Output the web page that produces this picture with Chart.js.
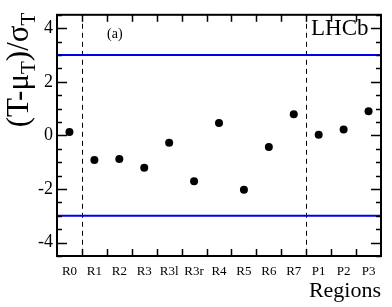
<!DOCTYPE html>
<html>
<head>
<meta charset="utf-8">
<script src="https://cdn.jsdelivr.net/npm/chart.js@4/dist/chart.umd.min.js"></script>
<style>
html,body{margin:0;padding:0;background:#fff;}
#c{display:block;}
</style>
</head>
<body>
<canvas id="c" width="392" height="307"></canvas>
<script>
const categories = ["R0","R1","R2","R3","R3l","R3r","R4","R5","R6","R7","P1","P2","P3"];
const pulls = [0.13,-0.92,-0.88,-1.21,-0.27,-1.71,0.46,-2.03,-0.43,0.79,0.02,0.22,0.90];
const yTickValues = [-4,-2,0,2,4];
const bandLimits = [3,-3];
const dividerAfter = ["R0","R7"];

const SERIF = '"Liberation Serif","DejaVu Serif",serif';

const decor = {
  id:'decor',
  beforeDatasetsDraw(chart){
    const {ctx, chartArea:a, scales:{x,y}} = chart;
    ctx.save();
    ctx.strokeStyle='#000'; ctx.lineWidth=1; ctx.setLineDash([5,4]);
    dividerAfter.forEach(c=>{
      const i = categories.indexOf(c);
      const px = Math.round((x.getPixelForValue(i)+x.getPixelForValue(i+1))/2)+0.5;
      ctx.beginPath(); ctx.moveTo(px,a.top); ctx.lineTo(px,a.bottom); ctx.stroke();
    });
    ctx.setLineDash([]);
    ctx.strokeStyle='#0000ee'; ctx.lineWidth=2;
    bandLimits.forEach(v=>{
      const py = y.getPixelForValue(v);
      ctx.beginPath(); ctx.moveTo(a.left,py); ctx.lineTo(a.right,py); ctx.stroke();
    });
    ctx.restore();
  },
  afterDraw(chart){
    const {ctx, chartArea:a, scales:{x,y}} = chart;
    ctx.save();
    ctx.strokeStyle='#000';
    ctx.lineWidth=1.5;
    for(let i=1;i<categories.length;i++){
      const px = Math.round((x.getPixelForValue(i-1)+x.getPixelForValue(i))/2)+0.5;
      ctx.beginPath(); ctx.moveTo(px,a.bottom); ctx.lineTo(px,a.bottom-7); ctx.stroke();
      ctx.beginPath(); ctx.moveTo(px,a.top); ctx.lineTo(px,a.top+7); ctx.stroke();
    }
    for(let k=-9;k<=9;k++){
      const v=k/2;
      const py = Math.round(y.getPixelForValue(v))+0.5;
      const len = (k%4===0)?10:5;
      ctx.beginPath(); ctx.moveTo(a.left,py); ctx.lineTo(a.left+len,py); ctx.stroke();
      ctx.beginPath(); ctx.moveTo(a.right,py); ctx.lineTo(a.right-len,py); ctx.stroke();
    }
    ctx.lineWidth=2;
    ctx.strokeRect(a.left,a.top,a.right-a.left,a.bottom-a.top);
    ctx.fillStyle='#000';
    ctx.textBaseline='alphabetic';
    ctx.textAlign='left';
    ctx.font='14px '+SERIF;
    ctx.fillText('(a)',107,38);
    ctx.font='23px '+SERIF;
    ctx.fillText('LHCb',311,35);
    ctx.textAlign='right';
    ctx.font='22px '+SERIF;
    ctx.fillText('Regions',a.right,297);
    const big=31, small=21;
    const parts=[['(T-μ',big,0],['T',small,7],[')/σ',big,0],['T',small,7]];
    let total=0;
    parts.forEach(p=>{ctx.font=p[1]+'px '+SERIF; total+=ctx.measureText(p[0]).width;});
    ctx.translate(28,70);
    ctx.rotate(-Math.PI/2);
    ctx.textAlign='left';
    let cx=-total/2;
    parts.forEach(p=>{ctx.font=p[1]+'px '+SERIF; ctx.fillText(p[0],cx,p[2]); cx+=ctx.measureText(p[0]).width;});
    ctx.restore();
  }
};

new Chart(document.getElementById('c'),{
  type:'line',
  data:{labels:categories,datasets:[{data:pulls,showLine:false,pointRadius:4,pointHoverRadius:4,pointBackgroundColor:'#000',pointBorderColor:'#000',pointBorderWidth:0}]},
  options:{
    responsive:false,animation:false,
    layout:{padding:{top:10,right:11,left:0,bottom:0}},
    plugins:{legend:{display:false},tooltip:{enabled:false}},
    scales:{
      x:{type:'category',offset:true,grid:{display:false,drawTicks:false},border:{display:false},
        ticks:{color:'#000',font:{family:SERIF,size:13},padding:8,maxRotation:0,autoSkip:false},
        afterFit:s=>{s.height=51;}},
      y:{min:-4.5,max:4.5,grid:{display:false,drawTicks:false},border:{display:false},
        afterBuildTicks:s=>{s.ticks=yTickValues.map(v=>({value:v}));},
        ticks:{color:'#000',font:{family:SERIF,size:18},padding:4},
        afterFit:s=>{s.width=57;}}
    }
  },
  plugins:[decor]
});
</script>
</body>
</html>
